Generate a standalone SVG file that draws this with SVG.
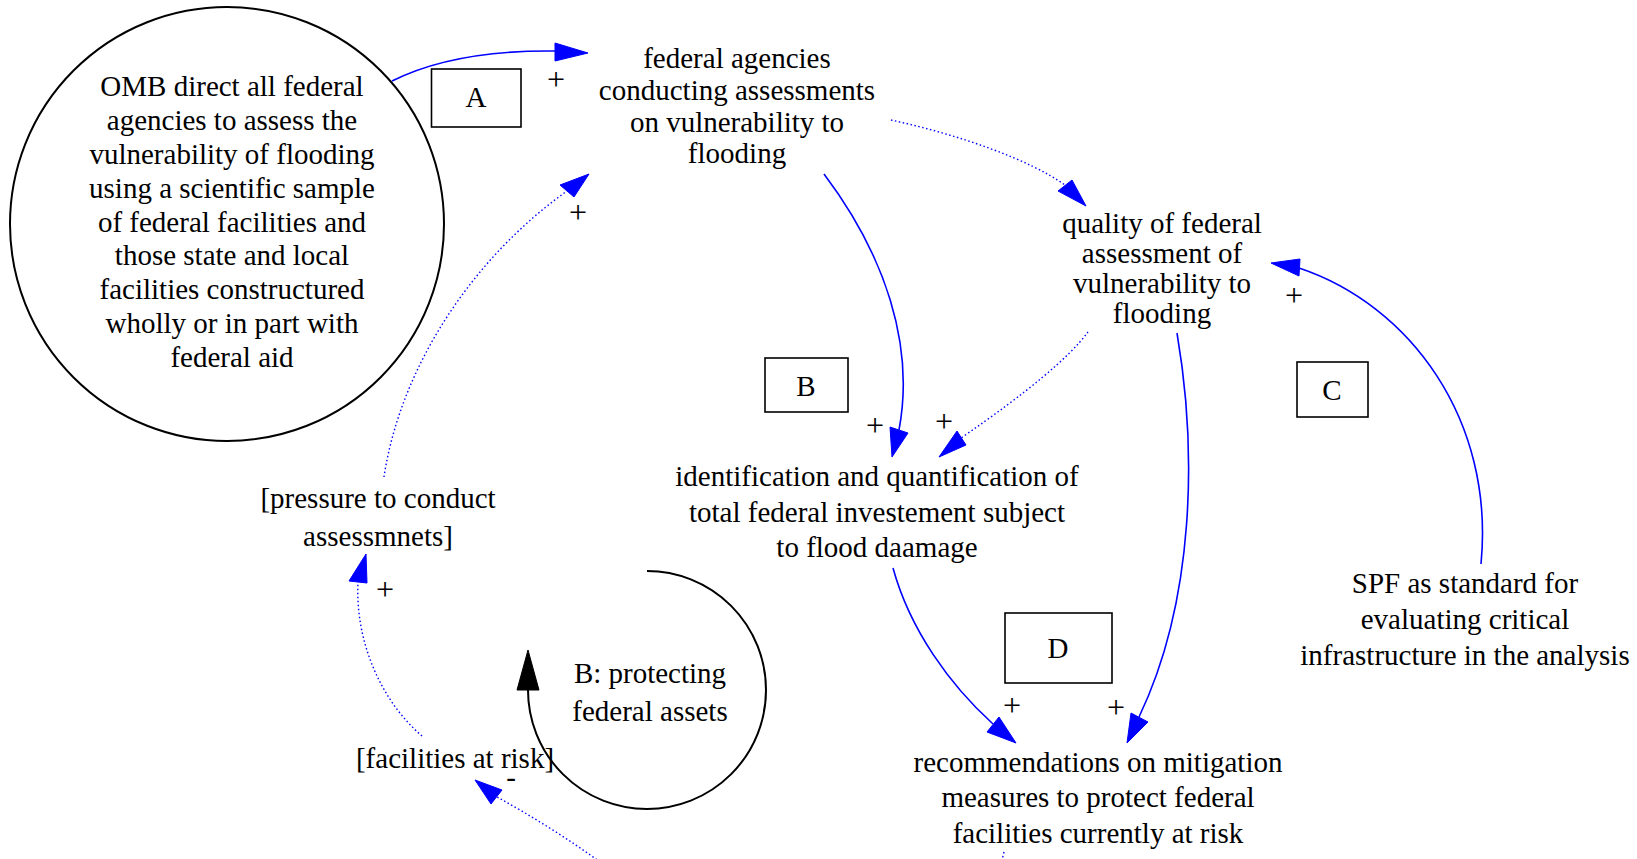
<svg xmlns="http://www.w3.org/2000/svg" width="1637" height="859" viewBox="0 0 1637 859" font-family="'Liberation Serif', 'DejaVu Serif', serif">
<style>
text{font-family:'Liberation Serif','DejaVu Serif',serif;font-size:29px;fill:#000;text-anchor:middle}
.sg{font-size:32px}
.e{fill:none;stroke:#0000ff;stroke-width:1.6}
.d{stroke-dasharray:1.5,2.5;stroke-width:1.4}
.ah{fill:#0000ff;stroke:#0000ff;stroke-width:1}
.box{fill:none;stroke:#000;stroke-width:1.6}
.ring{fill:none;stroke:#000;stroke-width:2}
</style>
<rect width="1637" height="859" fill="#fff"/>
<g id="connectors">
  <path class="e" d="M392,81 C430,62 480,50 556,51"/>
  <polygon class="ah" points="588,53 555,43 555,61"/>
  <text class="sg" x="556" y="90">+</text>

  <path class="e d" d="M384,477 C400,370 470,260 567,191"/>
  <polygon class="ah" points="589,174 560,185 574,197"/>
  <text class="sg" x="578" y="223">+</text>

  <path class="e d" d="M891,120 C960,135 1030,160 1065,185"/>
  <polygon class="ah" points="1086,206 1058,191 1072,180"/>

  <path class="e" d="M824,174 C885,255 915,345 899,430"/>
  <polygon class="ah" points="892,457 890,427 908,433"/>
  <text class="sg" x="875" y="436">+</text>

  <path class="e d" d="M1088,332 Q1060,370 961,438"/>
  <polygon class="ah" points="939,457 957,431 966,445"/>
  <text class="sg" x="944" y="432">+</text>

  <path class="e" d="M1177,333 C1197,450 1195,600 1139,717"/>
  <polygon class="ah" points="1127,743 1131,713 1148,722"/>
  <text class="sg" x="1116" y="718">+</text>

  <path class="e" d="M893,568 C910,630 950,685 993,724"/>
  <polygon class="ah" points="1016,743 987,732 999,717"/>
  <text class="sg" x="1012" y="716">+</text>

  <path class="e" d="M1481,564 C1495,420 1410,305 1299,268"/>
  <polygon class="ah" points="1271,263 1299,276 1300,259"/>
  <text class="sg" x="1294" y="306">+</text>

  <path class="e d" d="M422,736 C380,700 355,640 358,582"/>
  <polygon class="ah" points="366,554 349,581 367,583"/>
  <text class="sg" x="385" y="600">+</text>

  <path class="e d" d="M600,862 C570,840 530,815 497,797"/>
  <polygon class="ah" points="475,780 491,804 502,790"/>
  <text x="511" y="787">-</text>

  <path class="e d" d="M1004,852 L1002,860"/>
</g>
<g id="omb">
  <circle class="ring" cx="227" cy="224" r="217"/>
  <text x="232" y="96">OMB direct all federal</text>
  <text x="232" y="130">agencies to assess the</text>
  <text x="232" y="164">vulnerability of flooding</text>
  <text x="232" y="198">using a scientific sample</text>
  <text x="232" y="232">of federal facilities and</text>
  <text x="232" y="265">those state and local</text>
  <text x="232" y="299">facilities constructured</text>
  <text x="232" y="333">wholly or in part with</text>
  <text x="232" y="367">federal aid</text>
</g>
<g id="agencies">
  <text x="737" y="68">federal agencies</text>
  <text x="737" y="100">conducting assessments</text>
  <text x="737" y="132">on vulnerability to</text>
  <text x="737" y="163">flooding</text>
</g>
<g id="quality">
  <text x="1162" y="233">quality of federal</text>
  <text x="1162" y="263">assessment of</text>
  <text x="1162" y="293">vulnerability to</text>
  <text x="1162" y="323">flooding</text>
</g>
<g id="identification">
  <text x="877" y="486">identification and quantification of</text>
  <text x="877" y="522">total federal investement subject</text>
  <text x="877" y="557">to flood daamage</text>
</g>
<g id="recommendations">
  <text x="1098" y="772">recommendations on mitigation</text>
  <text x="1098" y="807">measures to protect federal</text>
  <text x="1098" y="843">facilities currently at risk</text>
</g>
<g id="spf">
  <text x="1465" y="593">SPF as standard for</text>
  <text x="1465" y="629">evaluating critical</text>
  <text x="1465" y="665">infrastructure in the analysis</text>
</g>
<g id="pressure">
  <text x="378" y="508">[pressure to conduct</text>
  <text x="378" y="546">assessmnets]</text>
</g>
<g id="facilities">
  <text x="455" y="768">[facilities at risk]</text>
</g>
<g id="loopB">
  <path class="ring" d="M647,571 A119,119 0 1 1 528,690"/>
  <polygon points="528,650 517,690 539,690" fill="#000" stroke="#000"/>
  <text x="650" y="683">B: protecting</text>
  <text x="650" y="721">federal assets</text>
</g>
<g id="boxA">
  <rect class="box" x="431.5" y="69" width="89.5" height="58"/>
  <text x="476" y="107">A</text>
</g>
<g id="boxB">
  <rect class="box" x="765" y="358" width="83" height="54"/>
  <text x="806" y="396">B</text>
</g>
<g id="boxC">
  <rect class="box" x="1297" y="362" width="71" height="55"/>
  <text x="1332" y="400">C</text>
</g>
<g id="boxD">
  <rect class="box" x="1005" y="613" width="107" height="70"/>
  <text x="1058" y="658">D</text>
</g>
</svg>
